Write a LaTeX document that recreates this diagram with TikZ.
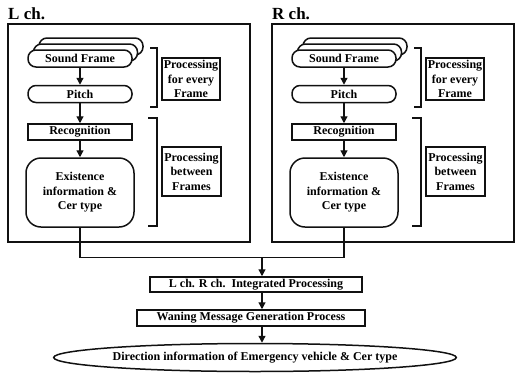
\documentclass[tikz,border=0pt]{standalone}
\usepackage{fontspec}
\setmainfont{Liberation Serif}
\usetikzlibrary{arrows.meta, positioning, shapes.geometric}
\definecolor{box-border}{HTML}{111111}
\definecolor{box-fill}{HTML}{FFFFFF}
\tikzset{
  box-font/.style={font=\fontsize{12}{14.5}\selectfont\bfseries},
  channel-frame/.style={
    draw=box-border, line width=2.2pt, minimum width=242pt, minimum height=218pt
  },
  channel-title/.style={
    anchor=base west, inner sep=0pt, font=\fontsize{17}{19}\selectfont\bfseries
  },
  stadium-node/.style={
    draw=box-border, fill=box-fill, line width=1.5pt, rounded corners=8pt,
    minimum width=104pt, minimum height=17pt, inner sep=1pt, box-font
  },
  step-node/.style={
    draw=box-border, fill=box-fill, line width=1.5pt,
    minimum height=16pt, inner sep=1pt, box-font
  },
  state-node/.style={
    draw=box-border, fill=box-fill, line width=1.5pt, rounded corners=15pt,
    minimum width=108pt, minimum height=69pt, align=center, box-font
  },
  note-node/.style={
    draw=box-border, line width=1.2pt, align=center, inner sep=1pt, box-font
  },
  goal-node/.style={
    ellipse, draw=box-border, line width=1.5pt, minimum width=330pt,
    minimum height=28pt, inner sep=0pt, box-font
  },
  bracket/.style={line width=1.2pt, draw=box-border},
  link/.style={line width=1.3pt, draw=box-border},
  flow/.style={-{Triangle[length=7pt, width=7pt]}, line width=1.3pt, draw=box-border}
}

\begin{document}
\begin{tikzpicture}[x=1pt, y=-1pt]
  \useasboundingbox (0,0) rectangle (515,373);

  % one block per channel
  \foreach \ch/\dx in {L/0, R/264} {
    \begin{scope}[xshift=\dx pt]
      \node[channel-title] (title-\ch) at (8,19) {\ch\ ch.};
      \node[channel-frame] (frame-\ch) at (129,133) {};

      \node[stadium-node] (sound-\ch-back2) at (91,46.5) {};
      \node[stadium-node] (sound-\ch-back1) at (85.5,52.5) {};
      \node[stadium-node] (sound-\ch)  at (80,58.5) {Sound Frame};
      \node[stadium-node] (pitch-\ch)  at (80,94)   {Pitch};
      \node[step-node, minimum width=104pt] (recog-\ch) at (80,132) {Recognition};
      \node[state-node]   (exist-\ch)  at (80,192.5) {Existence\\information \&\\Cer type};

      \node[note-node, minimum width=58pt, minimum height=42pt] (every-\ch)
        at (191,79) {Processing\\for every\\Frame};
      \node[note-node, minimum width=59pt, minimum height=49pt] (between-\ch)
        at (191.5,171.5) {Processing\\between\\Frames};

      \draw[bracket] (150,48) -- (157,48) -- (157,107) -- (150,107);
      \draw[bracket] (148,118) -- (157,118) -- (157,226) -- (148,226);

      \draw[flow] (sound-\ch) -- (pitch-\ch);
      \draw[flow] (pitch-\ch) -- (recog-\ch);
      \draw[flow] (recog-\ch) -- (exist-\ch);
    \end{scope}
  }

  \node[step-node, minimum width=212pt, minimum height=15pt] (merged) at (256,284.5)
    {L ch. R ch.\ \ Integrated Processing};
  \node[step-node, minimum width=228pt] (warning) at (251,318)
    {Waning Message Generation Process};
  \node[goal-node] (result) at (255,357.5)
    {Direction information of Emergency vehicle \& Cer type};

  \coordinate (join) at (262,257);
  \draw[link] (exist-L.south) -- ++(0,30) -| (exist-R.south);
  \draw[flow] (join) -- (join |- merged.north);
  \draw[flow] (join |- merged.south) -- (join |- warning.north);
  \draw[flow] (join |- warning.south) -- (join |- result.north);
\end{tikzpicture}
\end{document}
